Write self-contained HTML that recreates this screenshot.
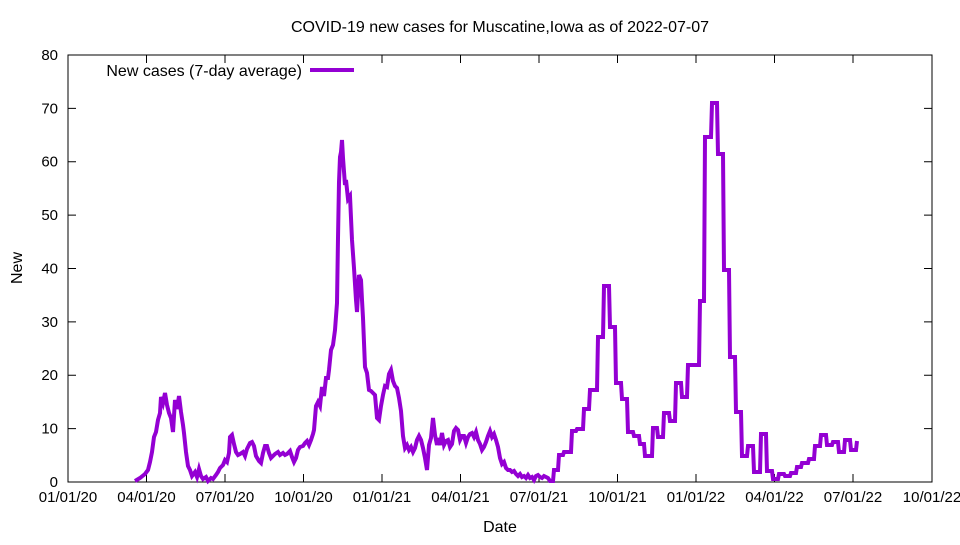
<!DOCTYPE html>
<html><head><meta charset="utf-8"><style>body{margin:0;background:#fff}</style></head><body>
<svg width="960" height="540" xmlns="http://www.w3.org/2000/svg" font-family="Liberation Sans, sans-serif" font-size="15">
<rect width="960" height="540" fill="#fff"/>
<text x="500" y="32" text-anchor="middle" font-size="16">COVID-19 new cases for Muscatine,Iowa as of 2022-07-07</text>
<rect x="68" y="55" width="864" height="427" fill="none" stroke="#000" stroke-width="1"/>
<g stroke="#000" stroke-width="1">
<path d="M68,482h8M68,428.6h8M68,375.2h8M68,321.9h8M68,268.5h8M68,215.1h8M68,161.7h8M68,108.4h8M68,55h8M932,428.6h-8M932,375.2h-8M932,321.9h-8M932,268.5h-8M932,215.1h-8M932,161.7h-8M932,108.4h-8"/>
<path d="M68,482v-8M146.5,482v-8M225,482v-8M303.5,482v-8M382,482v-8M460.5,482v-8M539,482v-8M617.5,482v-8M696,482v-8M774.5,482v-8M853,482v-8M932,482v-8M146.5,55v8M225,55v8M303.5,55v8M382,55v8M460.5,55v8M539,55v8M617.5,55v8M696,55v8M774.5,55v8M853,55v8"/>
</g>
<g text-anchor="end">
<text x="58" y="487">0</text><text x="58" y="433.6">10</text><text x="58" y="380.2">20</text><text x="58" y="326.9">30</text><text x="58" y="273.5">40</text><text x="58" y="220.1">50</text><text x="58" y="166.7">60</text><text x="58" y="113.4">70</text><text x="58" y="60">80</text>
</g>
<g text-anchor="middle">
<text x="68" y="502">01/01/20</text><text x="146.5" y="502">04/01/20</text><text x="225" y="502">07/01/20</text><text x="303.5" y="502">10/01/20</text><text x="382" y="502">01/01/21</text><text x="460.5" y="502">04/01/21</text><text x="539" y="502">07/01/21</text><text x="617.5" y="502">10/01/21</text><text x="696" y="502">01/01/22</text><text x="774.5" y="502">04/01/22</text><text x="853" y="502">07/01/22</text><text x="932" y="502">10/01/22</text>
<text x="500" y="532" font-size="16">Date</text>
</g>
<text transform="translate(22,268) rotate(-90)" text-anchor="middle" font-size="16">New</text>
<text x="302" y="76" text-anchor="end" font-size="16">New cases (7-day average)</text>
<line x1="310" y1="70" x2="354" y2="70" stroke="#9400d3" stroke-width="4"/>
<polyline fill="none" stroke="#9400d3" stroke-width="4" stroke-linejoin="miter" points="135,481 140,478 145,474 148,470 150,462 152,452 154,437 156,432 158,420 160,413 161,397 163,403 165,393 167,405 169,413 171,418 173,432 175,400 177,409 179,396 181,412 183,425 184,433 186,452 188,466 190,470 192,476 195,472 197,477 199,469 201,476 203,479 206,477 208,481 211,478 213,479 216,475 218,472 220,468 223,465 225,460 227,462 229,453 230,437 232,435 234,444 236,452 238,455 240,454 243,452 245,456 247,449 250,443 252,442 254,446 256,456 259,461 261,463 263,453 265,446 267,446 269,453 271,458 273,456 275,454 278,452 280,455 283,453 285,455 287,454 290,451 292,457 294,462 296,458 298,450 300,447 303,446 305,443 307,441 309,445 311,440 313,434 314,430 316,406 318,402 320,406 322,387 324,396 326,378 328,378 329,370 331,350 333,345 335,330 337,303 338,238 339,182 340,157 341,152 342,140 343,158 345,185 346,180 348,199 350,196 352,240 354,268 356,300 357,312 359,275 361,280 362,300 363,318 365,367 367,373 369,390 371,391 373,393 375,395 377,418 379,420 381,406 383,395 385,386 387,387 389,374 391,370 393,381 395,386 397,388 399,398 401,411 403,436 405,448 407,445 409,450 411,447 413,452 415,448 417,440 419,436 421,440 423,448 425,458 427,470 429,445 431,438 433,418 435,435 437,445 438,438 440,445 442,433 444,445 446,441 448,440 450,447 452,444 454,431 456,428 458,430 460,440 462,436 464,436 466,443 468,437 470,434 472,433 474,437 476,432 478,440 480,444 482,450 484,447 486,442 488,436 490,431 492,437 494,434 496,440 498,447 500,458 502,464 504,462 506,468 508,470 510,470 512,472 514,471 516,474 518,476 520,474 522,477 524,476 526,478 528,475 530,478 532,477 534,480 536,476 538,475 540,477 542,478 544,476 546,477 548,478 550,481 553,481 554,470 558,470 559,455 563,455 564,452 571,452 572,431 576,431 577,429 583,429 584,409 589,409 590,390 597,390 598,337 603,337 604,286 609,286 610,327 615,327 616,383 621,383 622,399 627,399 628,432 633,432 634,436 639,436 640,444 644,444 645,456 652,456 653,428 657,428 658,437 663,437 664,413 669,413 670,421 675,421 676,383 681,383 682,397 687,397 688,365 699,365 700,301 704,301 705,137 711,137 712,103 717,103 718,154 723,154 724,270 729,270 730,357 735,357 736,412 741,412 742,456 747,456 748,446 753,446 754,472 760,472 761,434 766,434 767,471 772,471 773,479 778,479 779,474 784,474 785,476 790,476 791,473 796,473 797,467 801,467 802,463 808,463 809,459 814,459 815,446 820,446 821,435 826,435 827,445 832,445 833,442 838,442 839,452 844,452 845,440 850,440 851,450 856,450 857,441"/>
</svg>
</body></html>
